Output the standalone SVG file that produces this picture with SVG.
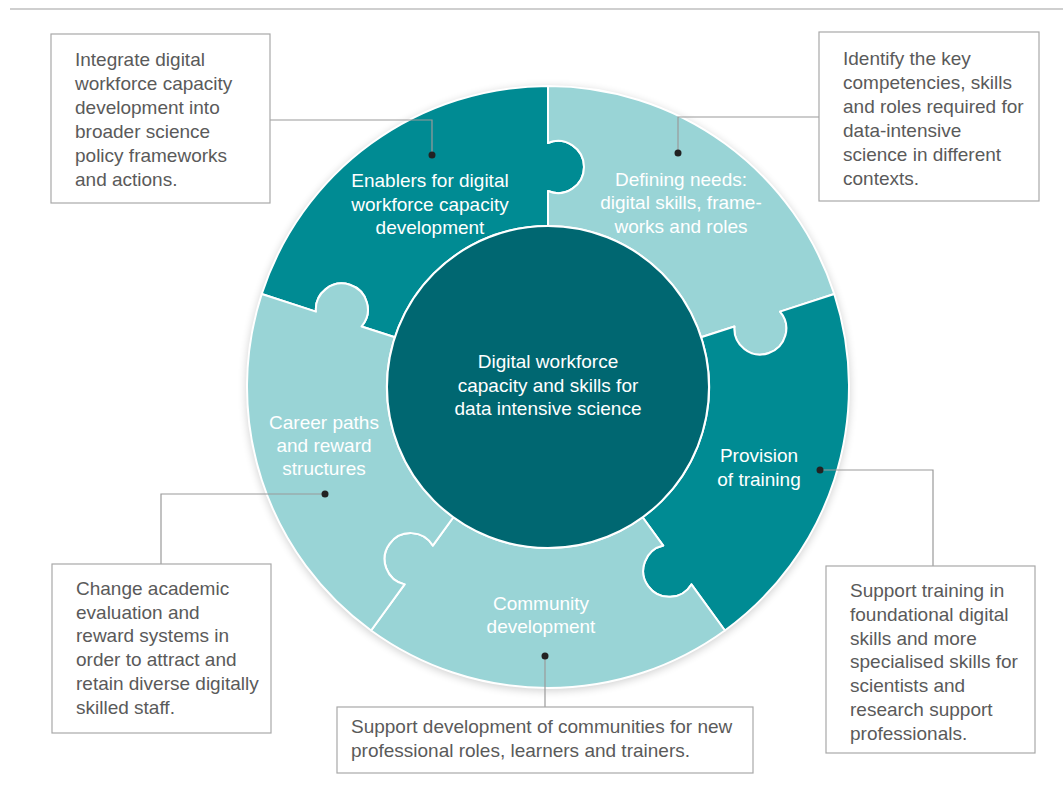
<svg xmlns="http://www.w3.org/2000/svg" width="1063" height="785" viewBox="0 0 1063 785">
<defs>
<style>
.box{fill:#fff;stroke:#a8a8a8;stroke-width:1.2}
.bt{font-family:"Liberation Sans",Arial,sans-serif;font-size:19px;fill:#5a5a5a}
.lt{font-family:"Liberation Sans",Arial,sans-serif;font-size:19px;fill:#fff;text-anchor:middle}
.dark{fill:#008b93;stroke:#fff;stroke-width:2;stroke-linejoin:round}
.light{fill:#99d4d6;stroke:#fff;stroke-width:2;stroke-linejoin:round}
.conn{fill:none;stroke:#9a9a9a;stroke-width:1.2}
.dot{fill:#222}
</style>
<filter id="sh" x="-10%" y="-10%" width="120%" height="120%"><feGaussianBlur stdDeviation="4"/></filter>
</defs>
<rect width="1063" height="785" fill="#fff"/>
<line x1="10" y1="9" x2="1063" y2="9" stroke="#cfcfcf" stroke-width="2"/>

<circle cx="548" cy="389" r="302" fill="#000" opacity="0.18" filter="url(#sh)"/>

<g id="enablers">
<path class="dark" d="M394.88,337.25 L361.59,326.43 A26,26 0 1 0 315.94,311.6 L261.73,293.99 A301,301 0 0 1 548,86 L548,143 A26,26 0 1 1 548,191 L548,226 A161,161 0 0 0 394.88,337.25 Z"/>
<text class="lt" x="430" y="187">Enablers for digital</text>
<text class="lt" x="430" y="211">workforce capacity</text>
<text class="lt" x="430" y="234">development</text>
</g>
<g id="defining">
<path class="light" d="M548,226 L548,191 A26,26 0 1 0 548,143 L548,86 A301,301 0 0 1 834.27,293.99 L780.06,311.6 A26,26 0 1 1 734.41,326.43 L701.12,337.25 A161,161 0 0 0 548,226 Z"/>
<text class="lt" x="681" y="186">Defining needs:</text>
<text class="lt" x="681" y="209">digital skills, frame-</text>
<text class="lt" x="681" y="233">works and roles</text>
</g>
<g id="provision">
<path class="dark" d="M701.12,337.25 L734.41,326.43 A26,26 0 1 0 780.06,311.6 L834.27,293.99 A301,301 0 0 1 724.92,630.51 L691.42,584.4 A26,26 0 1 1 663.21,545.57 L642.63,517.25 A161,161 0 0 0 701.12,337.25 Z"/>
<text class="lt" x="759" y="462">Provision</text>
<text class="lt" x="759" y="486">of training</text>
</g>
<g id="community">
<path class="light" d="M642.63,517.25 L663.21,545.57 A26,26 0 1 0 691.42,584.4 L724.92,630.51 A301,301 0 0 1 371.08,630.51 L404.58,584.4 A26,26 0 1 1 432.79,545.57 L453.37,517.25 A161,161 0 0 0 642.63,517.25 Z"/>
<text class="lt" x="541" y="610">Community</text>
<text class="lt" x="541" y="633">development</text>
</g>
<g id="career">
<path class="light" d="M453.37,517.25 L432.79,545.57 A26,26 0 1 0 404.58,584.4 L371.08,630.51 A301,301 0 0 1 261.73,293.99 L315.94,311.6 A26,26 0 1 1 361.59,326.43 L394.88,337.25 A161,161 0 0 0 453.37,517.25 Z"/>
<text class="lt" x="324" y="429">Career paths</text>
<text class="lt" x="324" y="452">and reward</text>
<text class="lt" x="324" y="475">structures</text>
</g>
<g id="center">
<circle cx="548" cy="387" r="161" fill="#006771" stroke="#fff" stroke-width="2"/>
<text class="lt" x="548" y="368">Digital workforce</text>
<text class="lt" x="548" y="392">capacity and skills for</text>
<text class="lt" x="548" y="415">data intensive science</text>
</g>

<g id="connectors">
<polyline class="conn" points="270,120 432,120 432,155"/>
<polyline class="conn" points="819,117 678,117 678,153"/>
<polyline class="conn" points="161,564 161,494 325,494"/>
<polyline class="conn" points="545,707 545,656"/>
<polyline class="conn" points="820,470 933,470 933,566"/>
<circle class="dot" cx="432" cy="155" r="3.5"/>
<circle class="dot" cx="678" cy="153" r="3.5"/>
<circle class="dot" cx="325" cy="494" r="3.5"/>
<circle class="dot" cx="545" cy="656" r="3.5"/>
<circle class="dot" cx="820" cy="470" r="3.5"/>
</g>

<g id="box-integrate">
<rect class="box" x="51" y="34" width="219" height="169"/>
<text class="bt" x="75" y="66"><tspan x="75">Integrate digital</tspan><tspan x="75" dy="24">workforce capacity</tspan><tspan x="75" dy="24">development into</tspan><tspan x="75" dy="24">broader science</tspan><tspan x="75" dy="24">policy frameworks</tspan><tspan x="75" dy="24">and actions.</tspan></text>
</g>
<g id="box-identify">
<rect class="box" x="819" y="32" width="220" height="169"/>
<text class="bt" x="843" y="65"><tspan x="843">Identify the key</tspan><tspan x="843" dy="24">competencies, skills</tspan><tspan x="843" dy="24">and roles required for</tspan><tspan x="843" dy="24">data-intensive</tspan><tspan x="843" dy="24">science in different</tspan><tspan x="843" dy="24">contexts.</tspan></text>
</g>
<g id="box-change">
<rect class="box" x="52" y="564" width="219" height="169"/>
<text class="bt" x="76" y="595"><tspan x="76">Change academic</tspan><tspan x="76" dy="23.7">evaluation and</tspan><tspan x="76" dy="23.7">reward systems in</tspan><tspan x="76" dy="23.7">order to attract and</tspan><tspan x="76" dy="23.7">retain diverse digitally</tspan><tspan x="76" dy="23.7">skilled staff.</tspan></text>
</g>
<g id="box-community">
<rect class="box" x="337" y="707" width="416" height="66"/>
<text class="bt" x="351" y="733"><tspan x="351">Support development of communities for new</tspan><tspan x="351" dy="23.5">professional roles, learners and trainers.</tspan></text>
</g>
<g id="box-training">
<rect class="box" x="826" y="566" width="209" height="187"/>
<text class="bt" x="850" y="597"><tspan x="850">Support training in</tspan><tspan x="850" dy="23.8">foundational digital</tspan><tspan x="850" dy="23.8">skills and more</tspan><tspan x="850" dy="23.8">specialised skills for</tspan><tspan x="850" dy="23.8">scientists and</tspan><tspan x="850" dy="23.8">research support</tspan><tspan x="850" dy="23.8">professionals.</tspan></text>
</g>
</svg>
